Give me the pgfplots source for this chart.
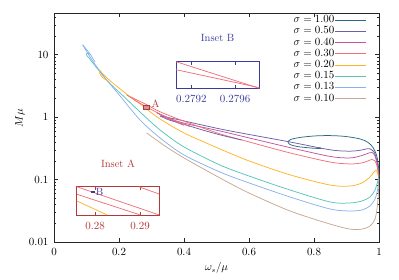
\documentclass[border=0pt]{standalone}
\usepackage{fontspec}
\usepackage{pgfplots}
\pgfplotsset{compat=1.18}
\definecolor{cS100}{HTML}{2B6A80}
\definecolor{cS050}{HTML}{6E5FA8}
\definecolor{cS040}{HTML}{C2569E}
\definecolor{cS030}{HTML}{F0707A}
\definecolor{cS020}{HTML}{FDB42A}
\definecolor{cS015}{HTML}{58C4B8}
\definecolor{cS013}{HTML}{88B2EE}
\definecolor{cS010}{HTML}{C8A894}
\definecolor{insA}{HTML}{B03838}
\definecolor{insB}{HTML}{3B3B9E}
\begin{document}
\begin{tikzpicture}[font=\fontsize{10.5}{12}\selectfont]
\useasboundingbox (-54pt,-37pt) rectangle (345pt,242pt);
\begin{axis}[
  name=main, at={(0pt,0pt)}, anchor=south west,
  scale only axis, width=325pt, height=228.7pt,
  xmin=0, xmax=1, ymin=0.01, ymax=46, ymode=log,
  log ticks with fixed point,
  xtick={0,0.2,0.4,0.6,0.8,1},
  ytick={0.01,0.1,1,10},
  minor ytick={0.02,0.03,0.04,0.05,0.06,0.07,0.08,0.09,0.2,0.3,0.4,0.5,0.6,0.7,0.8,0.9,2,3,4,5,6,7,8,9,20,30,40},
  tick align=inside, major tick length=4pt, minor tick length=2pt,
  axis line style={black!85, line width=0.5pt},
  tick style={black!85, line width=0.4pt},
  xticklabel style={yshift=-3pt},
  yticklabel style={xshift=-2pt},
  xlabel={$\omega_s/\mu$}, ylabel={$M\mu$},
  xlabel style={at={(axis description cs:0.5,-0.114)}, anchor=center},
  ylabel style={at={(axis description cs:-0.105,0.542)}, anchor=center},
  legend style={draw=none, fill=none, at={(0.963,0.995)}, anchor=north east,
    legend cell align=right, row sep=0pt, inner sep=0pt,
    nodes={inner sep=0.6pt, text height=7.5pt, text depth=2.5pt}},
  legend plot pos=right,
  legend image code/.code={\draw[#1, line width=0.75pt] (2pt,0pt) -- (33pt,0pt);},
  every axis plot/.append style={line width=0.75pt, smooth},
]
% sigma = 1.00
\addplot[cS100] coordinates {(1.0,0.132)(0.9969,0.185)(0.9923,0.248)(0.9815,0.327)(0.9662,0.394)(0.9415,0.448)(0.8954,0.491)(0.8492,0.506)(0.8031,0.500)(0.7569,0.473)(0.7292,0.440)(0.7200,0.401)(0.7262,0.365)(0.7477,0.339)(0.7877,0.321)(0.8123,0.315)(0.8215,0.316)(0.8185,0.322)(0.8123,0.321)};
\addlegendentry{$\sigma = 1.00$}
% sigma = 0.50
\addplot[cS050] coordinates {(0.3262,1.045)(0.3723,0.935)(0.4,0.869)(0.5108,0.647)(0.6,0.528)(0.7262,0.40)(0.8492,0.30)(0.9108,0.285)(0.9477,0.298)(0.9631,0.312)(0.9723,0.31)(0.9846,0.277)(0.9923,0.214)(0.9969,0.153)(1.0,0.110)};
\addlegendentry{$\sigma = 0.50$}
% sigma = 0.40
\addplot[cS040] coordinates {(0.3169,1.17)(0.3569,0.953)(0.4,0.80)(0.5108,0.60)(0.6,0.465)(0.7262,0.325)(0.8492,0.235)(0.9108,0.222)(0.9477,0.243)(0.9692,0.267)(0.9785,0.272)(0.9877,0.239)(0.9954,0.165)(1.0,0.114)};
\addlegendentry{$\sigma = 0.40$}
% sigma = 0.30
\addplot[cS030] coordinates {(0.2237,2.27)(0.2492,1.95)(0.2852,1.58)(0.3262,1.22)(0.4,0.86)(0.5108,0.54)(0.6,0.401)(0.7262,0.267)(0.8492,0.191)(0.9108,0.178)(0.9477,0.185)(0.9662,0.199)(0.9785,0.210)(0.9877,0.199)(0.9938,0.165)(0.9985,0.119)(1.0,0.100)};
\addlegendentry{$\sigma = 0.30$}
% sigma = 0.20
\addplot[cS020] coordinates {(0.1394,5.71)(0.1569,4.57)(0.1785,3.60)(0.2092,2.68)(0.2338,2.12)(0.2646,1.63)(0.2862,1.33)(0.3262,0.935)(0.4,0.558)(0.5108,0.309)(0.6,0.199)(0.7262,0.119)(0.8492,0.0818)(0.9108,0.0788)(0.9477,0.0884)(0.9723,0.110)(0.9846,0.132)(0.9908,0.140)(0.9954,0.128)(0.9994,0.0987)};
\addlegendentry{$\sigma = 0.20$}
% sigma = 0.15
\addplot[cS015] coordinates {(0.1092,10.12)(0.1046,10.69)(0.0998,10.30)(0.1015,9.57)(0.1077,8.89)(0.1169,7.67)(0.1415,5.30)(0.1723,3.45)(0.2123,2.20)(0.2646,1.21)(0.3262,0.624)(0.4,0.333)(0.5108,0.171)(0.6,0.114)(0.7262,0.0681)(0.8492,0.0438)(0.9108,0.0422)(0.9477,0.0454)(0.9723,0.0526)(0.9877,0.0681)(0.9963,0.0951)(0.9994,0.119)};
\addlegendentry{$\sigma = 0.15$}
% sigma = 0.13
\addplot[cS013] coordinates {(0.0883,14.36)(0.1169,8.26)(0.1569,4.25)(0.2031,2.19)(0.2646,0.902)(0.3262,0.465)(0.4,0.248)(0.5108,0.132)(0.6,0.0884)(0.7262,0.0526)(0.8492,0.0338)(0.9108,0.0314)(0.9477,0.0326)(0.9723,0.0378)(0.9877,0.0489)(0.9954,0.0681)(0.9994,0.0987)};
\addlegendentry{$\sigma = 0.13$}
% sigma = 0.10
\addplot[cS010] coordinates {(0.2852,0.558)(0.3415,0.345)(0.4,0.222)(0.5108,0.106)(0.6,0.0609)(0.7262,0.0314)(0.8492,0.0194)(0.9108,0.0161)(0.9477,0.0161)(0.9723,0.0180)(0.9877,0.0234)(0.9954,0.0392)(0.9991,0.0732)(1.0,0.106)};
\addlegendentry{$\sigma = 0.10$}
% second branches
\addplot[cS050, forget plot] coordinates {(0.3262,1.045)(0.3569,0.89)(0.4,0.77)(0.4492,0.64)(0.5108,0.52)(0.5775,0.43)};
\addplot[cS040, forget plot] coordinates {(0.3169,1.17)(0.3415,1.00)(0.3723,0.85)(0.40,0.74)};
\addplot[cS030, forget plot] coordinates {(0.2237,2.27)(0.2338,2.10)(0.2492,1.86)(0.2852,1.455)(0.3262,1.12)(0.37,0.88)(0.42,0.70)};
\addplot[cS020, forget plot] coordinates {(0.1394,5.71)(0.1415,4.92)(0.1508,4.25)(0.1662,3.80)};
\addplot[cS013, forget plot] coordinates {(0.0883,14.36)(0.0985,12.39)(0.1108,10.30)(0.1262,7.67)};
% region A marker
\addplot[insA, fill=insA!55, line width=0.5pt, forget plot, sharp plot] coordinates {(0.2759,1.36)(0.2943,1.36)(0.2943,1.55)(0.2759,1.55)} -- cycle;
\node[text=insA, anchor=west, inner sep=1pt] at (axis cs:0.297,1.62) {A};
\end{axis}
% Inset A
\begin{axis}[
  at={(22.7pt,27pt)}, anchor=south west,
  scale only axis, width=82.6pt, height=28.3pt,
  xmin=0.2759, xmax=0.2943, ymin=1.36, ymax=1.55,
  xtick={0.28,0.29}, ytick=\empty,
  tick align=inside, major tick length=3pt,
  axis line style={insA, line width=0.6pt},
  tick style={insA, line width=0.4pt},
  xticklabel style={text=insA, yshift=-3.5pt},
  /pgf/number format/.cd, fixed, precision=2, /pgfplots/.cd,
  title={Inset A},
  title style={text=insA, at={(0.5,1)}, anchor=center, yshift=17.4pt},
  every axis plot/.append style={line width=0.75pt, sharp plot},
]
\addplot[cS030] coordinates {(0.2759,1.55)(0.2943,1.36)};
\addplot[cS030] coordinates {(0.2759,1.4996)(0.2901,1.36)};
\addplot[cS030] coordinates {(0.2897,1.55)(0.2943,1.5006)};
\addplot[cS020] coordinates {(0.2759,1.455)(0.2827,1.36)};
\addplot[insB, fill=insB, line width=0.6pt] coordinates {(0.27906,1.510)(0.27982,1.510)(0.27982,1.518)(0.27906,1.518)} -- cycle;
\node[text=insB, anchor=west, inner sep=1pt] at (axis cs:0.2799,1.514) {B};
\end{axis}
% Inset B
\begin{axis}[
  at={(122pt,153.7pt)}, anchor=south west,
  scale only axis, width=83.3pt, height=26.6pt,
  xmin=0.27906, xmax=0.27982, ymin=1.510, ymax=1.518,
  xtick={0.2792,0.2796}, ytick=\empty,
  tick align=inside, major tick length=3pt,
  axis line style={insB, line width=0.6pt},
  tick style={insB, line width=0.4pt},
  xticklabel style={text=insB, yshift=-3.5pt, /pgf/number format/.cd, fixed, precision=4},
  scaled x ticks=false,
  title={Inset B},
  title style={text=insB, at={(0.5,1)}, anchor=center, yshift=17.7pt},
  every axis plot/.append style={line width=0.75pt, sharp plot},
]
\addplot[cS030] coordinates {(0.27906,1.518)(0.27982,1.510)};
\addplot[cS030] coordinates {(0.27906,1.5156)(0.27982,1.5102)};
\end{axis}
\end{tikzpicture}
\end{document}
